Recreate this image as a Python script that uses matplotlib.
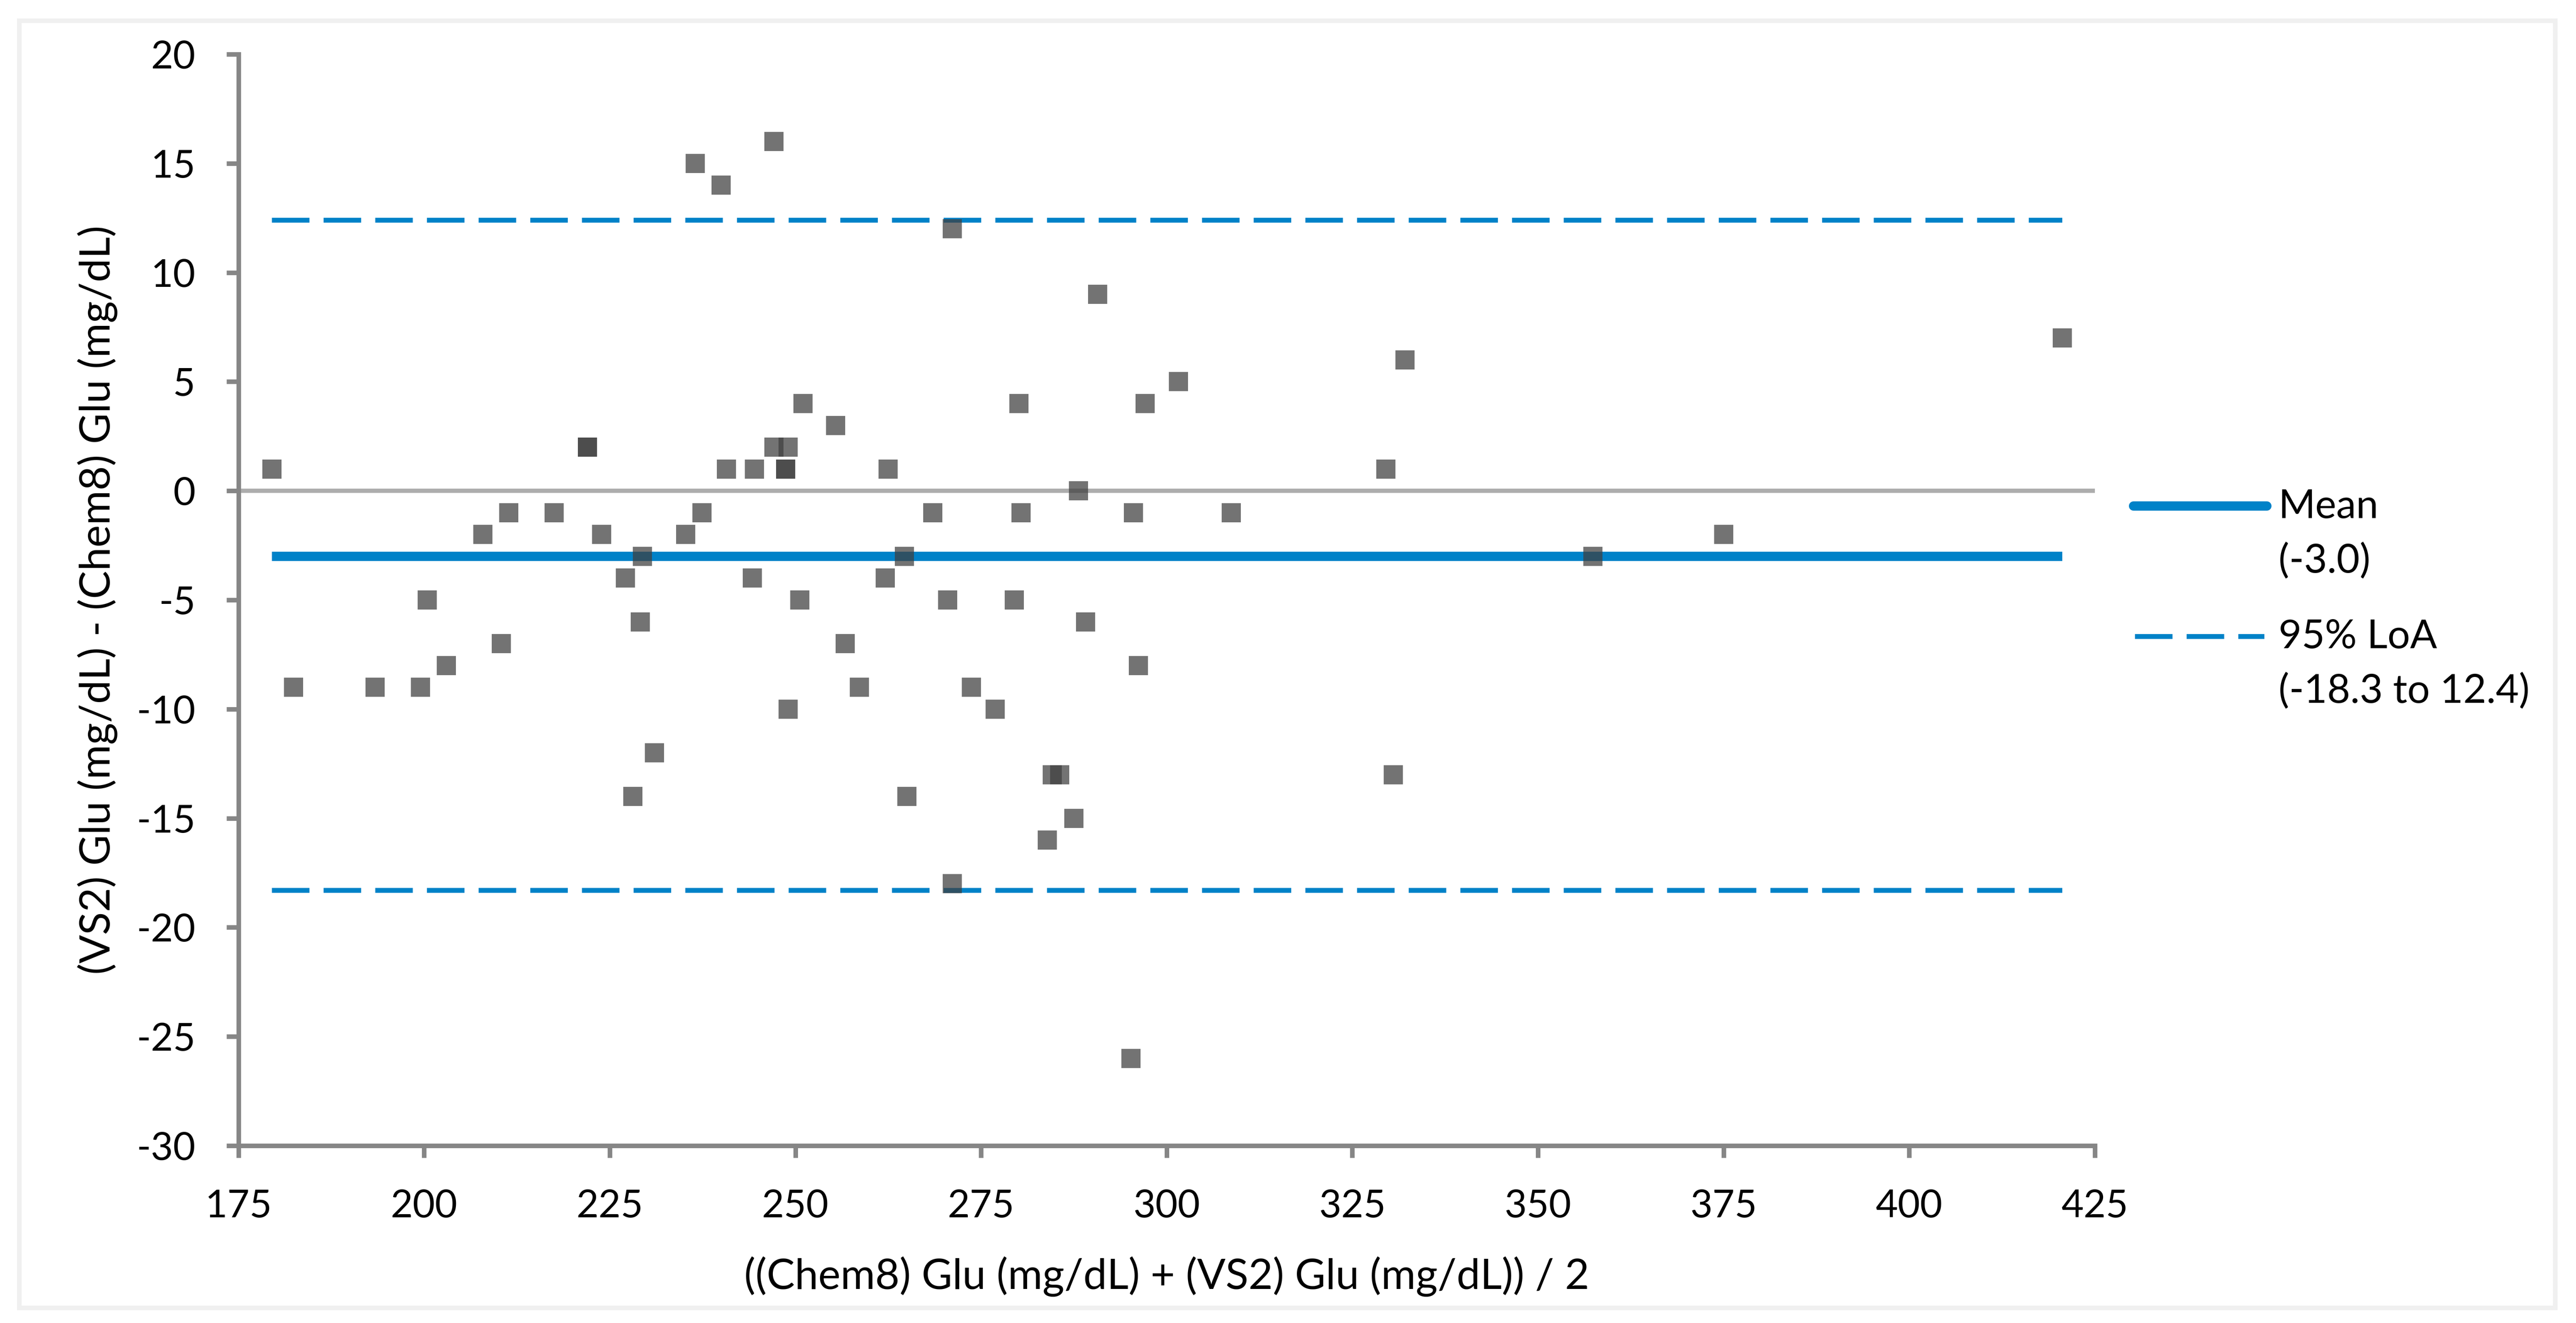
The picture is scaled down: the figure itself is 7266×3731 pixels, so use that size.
import matplotlib
matplotlib.use('Agg')
import matplotlib.pyplot as plt
from matplotlib.lines import Line2D
from matplotlib.patches import Rectangle

plt.rcParams['font.family'] = ['Lato', 'DejaVu Sans']
plt.rcParams['axes.unicode_minus'] = False

# Bland-Altman data: mean of the two methods vs. difference (VS2 - Chem8)
mean_glu = [179.5, 182.4, 193.4, 199.5, 200.4, 203.0, 207.9, 210.4, 211.4, 217.5,
            222.0, 222.0, 223.9, 227.1, 228.1, 229.1, 229.4, 231.0, 235.2, 236.5,
            237.4, 240.0, 240.7, 244.2, 244.5, 247.1, 247.1, 248.7, 248.7, 249.0,
            249.0, 250.6, 251.0, 255.4, 256.7, 258.6, 262.5, 262.1, 264.7, 265.0,
            268.5, 270.5, 271.1, 271.1, 273.7, 276.9, 279.5, 280.1, 280.4, 283.9,
            284.6, 285.6, 287.5, 288.1, 289.1, 290.7, 295.5, 295.2, 296.2, 297.1,
            301.6, 308.7, 329.5, 330.5, 332.1, 357.4, 375.0, 420.6]
diff_glu = [1, -9, -9, -9, -5, -8, -2, -7, -1, -1,
            2, 2, -2, -4, -14, -6, -3, -12, -2, 15,
            -1, 14, 1, -4, 1, 16, 2, 1, 1, 2,
            -10, -5, 4, 3, -7, -9, 1, -4, -3, -14,
            -1, -5, 12, -18, -9, -10, -5, 4, -1, -16,
            -13, -13, -15, 0, -6, 9, -1, -26, -8, 4,
            5, -1, 1, -13, 6, -3, -2, 7]

bias = -3.0
loa_low = -18.3
loa_high = 12.4

x_ticks = list(range(175, 426, 25))
y_ticks = list(range(-30, 21, 5))

blue = '#0082C8'
axis_gray = '#868686'

fig = plt.figure(figsize=(7266 / 300, 3731 / 300), dpi=300)
ax = fig.add_axes([0.0926, 0.1340, 0.7206, 0.825])

# light outer chart border
fig.add_artist(Rectangle((0.0074, 0.0115), 0.9845, 0.973, transform=fig.transFigure,
                         fill=False, edgecolor='#F0F0F0', linewidth=3.1))

x_min, x_max = min(mean_glu), max(mean_glu)

ax.axhline(0, color='#ADADAD', linewidth=2.9, zorder=1)
ax.plot([x_min, x_max], [bias, bias], color=blue, linewidth=6.3, zorder=2,
        solid_capstyle='butt')
for v in (loa_low, loa_high):
    ax.plot([x_min, x_max], [v, v], color=blue, linewidth=3.3, zorder=2,
            dashes=(7.7, 2.9), dash_capstyle='butt')

ax.plot(mean_glu, diff_glu, linestyle='none', marker='s', markersize=13,
        markerfacecolor='#404040', markeredgewidth=0, alpha=0.733, zorder=3)

ax.set_xlim(175, 425)
ax.set_ylim(-30, 20)
ax.set_xticks(x_ticks)
ax.set_yticks(y_ticks)

for side in ('top', 'right'):
    ax.spines[side].set_visible(False)
for side in ('left', 'bottom'):
    ax.spines[side].set_color(axis_gray)
    ax.spines[side].set_linewidth(3.1)

ax.tick_params(axis='both', direction='out', length=8.2, width=3.1, color=axis_gray,
               labelsize=26, labelcolor='black', pad=21)

fig.text(0.4529, 0.0257, '((Chem8) Glu (mg/dL) + (VS2) Glu (mg/dL)) / 2',
         ha='center', va='baseline', fontsize=28.5)
fig.text(0.0427, 0.5465, '(VS2) Glu (mg/dL) - (Chem8) Glu (mg/dL)', rotation=90,
         rotation_mode='anchor', ha='center', va='baseline', fontsize=28.5)

# legend, drawn by hand so the key sits beside the first line of each label
fig.add_artist(Line2D([0.8282, 0.8800], [0.6175, 0.6175], transform=fig.transFigure,
                      color=blue, linewidth=6.3, solid_capstyle='round'))
fig.add_artist(Line2D([0.8288, 0.8790], [0.5189, 0.5189], transform=fig.transFigure,
                      color=blue, linewidth=3.3, dashes=(7.7, 2.9),
                      dash_capstyle='butt'))
leg_x = 0.8845
fig.text(leg_x, 0.6084, 'Mean', va='baseline', fontsize=27)
fig.text(leg_x, 0.5674, '(%.1f)' % bias, va='baseline', fontsize=27)
fig.text(leg_x, 0.5100, '95% LoA', va='baseline', fontsize=27)
fig.text(leg_x, 0.4690, '(%.1f to %.1f)' % (loa_low, loa_high), va='baseline', fontsize=27)

fig.savefig('out.png', dpi=300, facecolor='white')
